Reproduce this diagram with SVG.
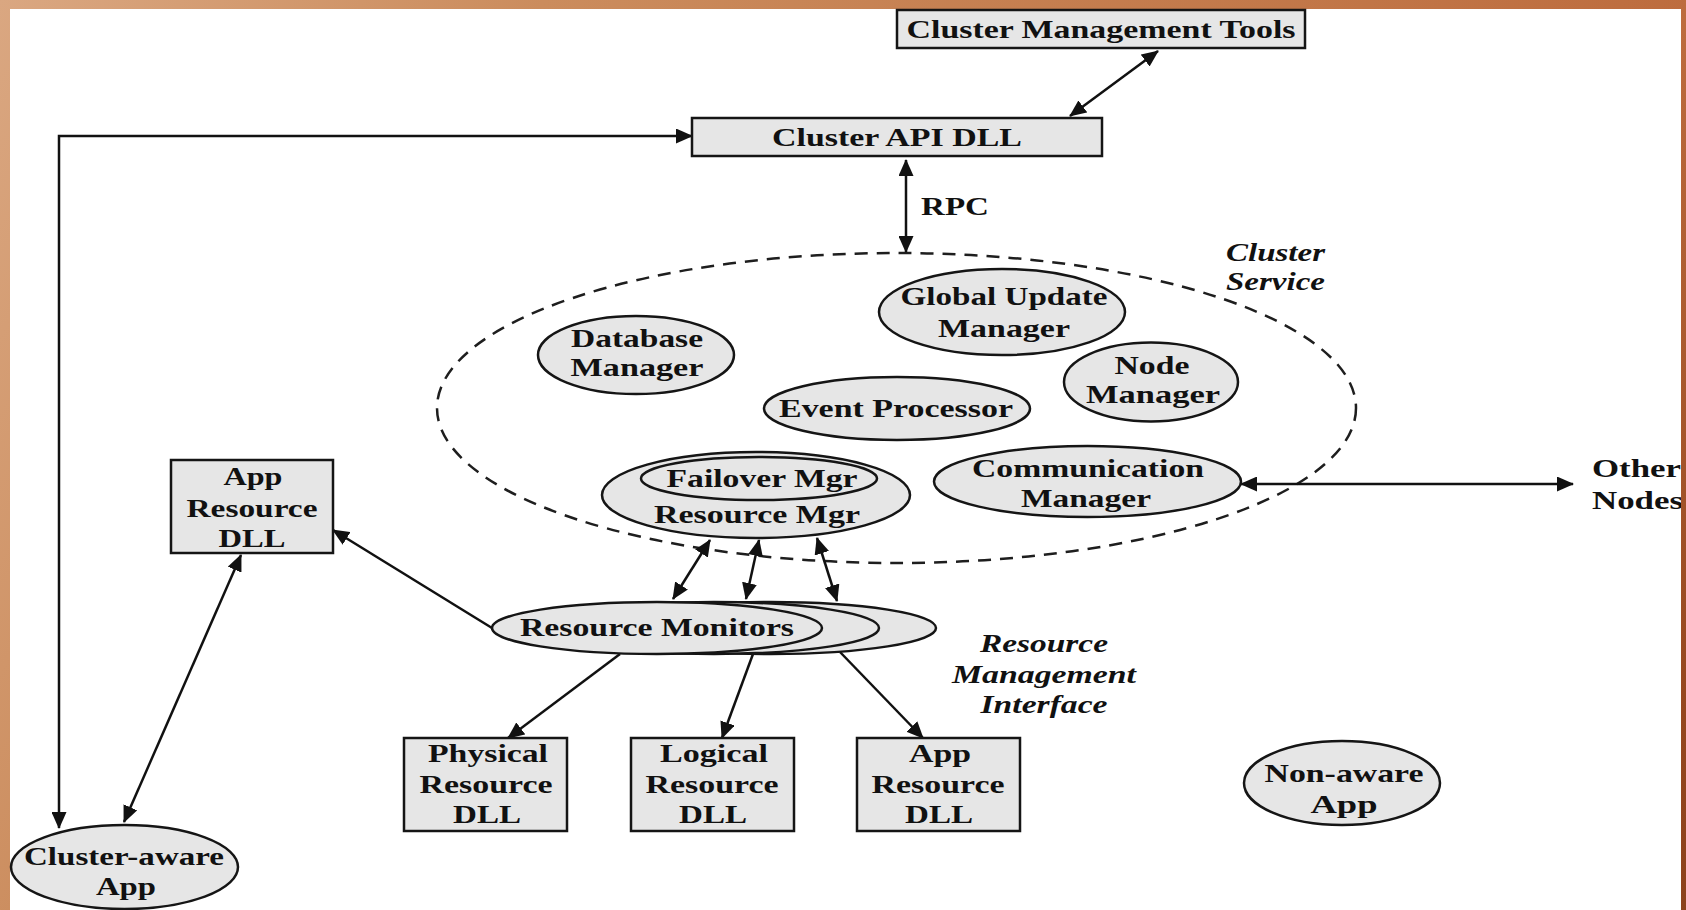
<svg xmlns="http://www.w3.org/2000/svg" width="1686" height="910" viewBox="0 0 1686 910">
  <defs>
    <linearGradient id="frame" gradientUnits="userSpaceOnUse" x1="0" y1="0" x2="1686" y2="910">
      <stop offset="0" stop-color="#daa781"/>
      <stop offset="0.25" stop-color="#cb8c5d"/>
      <stop offset="0.78" stop-color="#bd6c3e"/>
      <stop offset="0.95" stop-color="#95471f"/>
      <stop offset="1" stop-color="#8c421c"/>
    </linearGradient>
    <marker id="ah" viewBox="0 0 17 15" refX="16" refY="7.5" markerWidth="17" markerHeight="15" markerUnits="userSpaceOnUse" orient="auto-start-reverse">
      <path d="M0,0 L17,7.5 L0,15 z" fill="#111"/>
    </marker>
    <style>
      .shape { fill:#e6e6e6; stroke:#151515; stroke-width:2.5; }
      .t { font-family:"Liberation Serif","Times New Roman",serif; font-weight:bold; font-size:25px; fill:#111; text-anchor:middle; }
      .s { text-anchor:start; }
      .i { font-style:italic; }
      .conn { fill:none; stroke:#111; stroke-width:2.5; }
      .dash { fill:none; stroke:#1e1e1e; stroke-width:2.5; stroke-dasharray:13 9; }
    </style>
  </defs>

  <rect x="0" y="0" width="1686" height="910" fill="url(#frame)"/>
  <rect x="10" y="9" width="1671" height="901" fill="#ffffff"/>

  <g id="cluster-service">
    <ellipse class="dash" cx="896.5" cy="408" rx="459.5" ry="155"/>
    <text class="t i s" x="1226" y="261" textLength="99" lengthAdjust="spacingAndGlyphs">Cluster</text>
    <text class="t i s" x="1226" y="290" textLength="99" lengthAdjust="spacingAndGlyphs">Service</text>
  </g>

  <g id="connectors">
    <path class="conn" d="M1158,51 L1070,116" marker-start="url(#ah)" marker-end="url(#ah)"/>
    <path class="conn" d="M59,828 V136 H692" marker-start="url(#ah)" marker-end="url(#ah)"/>
    <path class="conn" d="M906,160 V252" marker-start="url(#ah)" marker-end="url(#ah)"/>
    <path class="conn" d="M1241,484 H1573" marker-start="url(#ah)" marker-end="url(#ah)"/>
    <path class="conn" d="M710,540 L673,599" marker-start="url(#ah)" marker-end="url(#ah)"/>
    <path class="conn" d="M759,540 L746,599" marker-start="url(#ah)" marker-end="url(#ah)"/>
    <path class="conn" d="M817,538 L837,601" marker-start="url(#ah)" marker-end="url(#ah)"/>
    <path class="conn" d="M492,628 L333,530" marker-end="url(#ah)"/>
    <path class="conn" d="M241,555 L124,822" marker-start="url(#ah)" marker-end="url(#ah)"/>
    <path class="conn" d="M620,654 L508,738" marker-end="url(#ah)"/>
    <path class="conn" d="M753,654 L722,738" marker-end="url(#ah)"/>
    <path class="conn" d="M840,652 L923,738" marker-end="url(#ah)"/>
    <text class="t s" x="921" y="215" textLength="68" lengthAdjust="spacingAndGlyphs">RPC</text>
  </g>

  <g id="cluster-management-tools">
    <rect class="shape" x="897" y="10" width="408" height="38"/>
    <text class="t" x="1101" y="38" textLength="389" lengthAdjust="spacingAndGlyphs">Cluster Management Tools</text>
  </g>

  <g id="cluster-api-dll">
    <rect class="shape" x="692" y="118" width="410" height="38"/>
    <text class="t" x="897" y="146" textLength="250" lengthAdjust="spacingAndGlyphs">Cluster API DLL</text>
  </g>

  <g id="database-manager">
    <ellipse class="shape" cx="636" cy="355" rx="98" ry="39"/>
    <text class="t" x="637" y="347" textLength="132" lengthAdjust="spacingAndGlyphs">Database</text>
    <text class="t" x="637" y="376" textLength="133" lengthAdjust="spacingAndGlyphs">Manager</text>
  </g>

  <g id="global-update-manager">
    <ellipse class="shape" cx="1002" cy="312" rx="123" ry="43"/>
    <text class="t" x="1004" y="305" textLength="207" lengthAdjust="spacingAndGlyphs">Global Update</text>
    <text class="t" x="1004" y="337" textLength="132" lengthAdjust="spacingAndGlyphs">Manager</text>
  </g>

  <g id="node-manager">
    <ellipse class="shape" cx="1151" cy="382" rx="87" ry="39.5"/>
    <text class="t" x="1152" y="374" textLength="75" lengthAdjust="spacingAndGlyphs">Node</text>
    <text class="t" x="1153" y="403" textLength="134" lengthAdjust="spacingAndGlyphs">Manager</text>
  </g>

  <g id="event-processor">
    <ellipse class="shape" cx="897" cy="408.5" rx="133" ry="31.5"/>
    <text class="t" x="896" y="417" textLength="234" lengthAdjust="spacingAndGlyphs">Event Processor</text>
  </g>

  <g id="communication-manager">
    <ellipse class="shape" cx="1087.5" cy="481.5" rx="153.5" ry="35.5"/>
    <text class="t" x="1088" y="477" textLength="232" lengthAdjust="spacingAndGlyphs">Communication</text>
    <text class="t" x="1086" y="507" textLength="130" lengthAdjust="spacingAndGlyphs">Manager</text>
  </g>

  <g id="resource-manager">
    <ellipse class="shape" cx="756" cy="495" rx="154" ry="43"/>
    <ellipse class="shape" cx="759" cy="478.5" rx="118" ry="21.5"/>
    <text class="t" x="762" y="487" textLength="191" lengthAdjust="spacingAndGlyphs">Failover Mgr</text>
    <text class="t" x="757" y="523" textLength="206" lengthAdjust="spacingAndGlyphs">Resource Mgr</text>
  </g>

  <g id="other-nodes">
    <text class="t s" x="1592" y="477" textLength="89" lengthAdjust="spacingAndGlyphs">Other</text>
    <text class="t s" x="1592" y="509" textLength="91" lengthAdjust="spacingAndGlyphs">Nodes</text>
  </g>

  <g id="app-resource-dll-left">
    <rect class="shape" x="171" y="460" width="162" height="93"/>
    <text class="t" x="253" y="485" textLength="59" lengthAdjust="spacingAndGlyphs">App</text>
    <text class="t" x="252" y="517" textLength="131" lengthAdjust="spacingAndGlyphs">Resource</text>
    <text class="t" x="252" y="547" textLength="67" lengthAdjust="spacingAndGlyphs">DLL</text>
  </g>

  <g id="resource-monitors">
    <ellipse class="shape" cx="771" cy="628" rx="165" ry="26"/>
    <ellipse class="shape" cx="714" cy="628" rx="165" ry="26"/>
    <ellipse class="shape" cx="657" cy="628" rx="165" ry="26"/>
    <text class="t" x="657" y="636" textLength="274" lengthAdjust="spacingAndGlyphs">Resource Monitors</text>
  </g>

  <g id="resource-management-interface">
    <text class="t i" x="1044" y="652" textLength="128" lengthAdjust="spacingAndGlyphs">Resource</text>
    <text class="t i" x="1044" y="683" textLength="184" lengthAdjust="spacingAndGlyphs">Management</text>
    <text class="t i" x="1044" y="713" textLength="127" lengthAdjust="spacingAndGlyphs">Interface</text>
  </g>

  <g id="physical-resource-dll">
    <rect class="shape" x="404" y="738" width="163" height="93"/>
    <text class="t" x="488" y="762" textLength="120" lengthAdjust="spacingAndGlyphs">Physical</text>
    <text class="t" x="486" y="793" textLength="133" lengthAdjust="spacingAndGlyphs">Resource</text>
    <text class="t" x="487" y="823" textLength="68" lengthAdjust="spacingAndGlyphs">DLL</text>
  </g>

  <g id="logical-resource-dll">
    <rect class="shape" x="631" y="738" width="163" height="93"/>
    <text class="t" x="714" y="762" textLength="108" lengthAdjust="spacingAndGlyphs">Logical</text>
    <text class="t" x="712" y="793" textLength="133" lengthAdjust="spacingAndGlyphs">Resource</text>
    <text class="t" x="713" y="823" textLength="68" lengthAdjust="spacingAndGlyphs">DLL</text>
  </g>

  <g id="app-resource-dll">
    <rect class="shape" x="857" y="738" width="163" height="93"/>
    <text class="t" x="940" y="762" textLength="62" lengthAdjust="spacingAndGlyphs">App</text>
    <text class="t" x="938" y="793" textLength="133" lengthAdjust="spacingAndGlyphs">Resource</text>
    <text class="t" x="939" y="823" textLength="68" lengthAdjust="spacingAndGlyphs">DLL</text>
  </g>

  <g id="non-aware-app">
    <ellipse class="shape" cx="1342" cy="783" rx="98" ry="42"/>
    <text class="t" x="1344" y="782" textLength="159" lengthAdjust="spacingAndGlyphs">Non-aware</text>
    <text class="t" x="1344" y="813" textLength="67" lengthAdjust="spacingAndGlyphs">App</text>
  </g>

  <g id="cluster-aware-app">
    <ellipse class="shape" cx="124.5" cy="867" rx="113.5" ry="42"/>
    <text class="t" x="124" y="865" textLength="200" lengthAdjust="spacingAndGlyphs">Cluster-aware</text>
    <text class="t" x="126" y="895" textLength="60" lengthAdjust="spacingAndGlyphs">App</text>
  </g>

  <rect x="1681" y="0" width="5" height="910" fill="url(#frame)"/>
</svg>
